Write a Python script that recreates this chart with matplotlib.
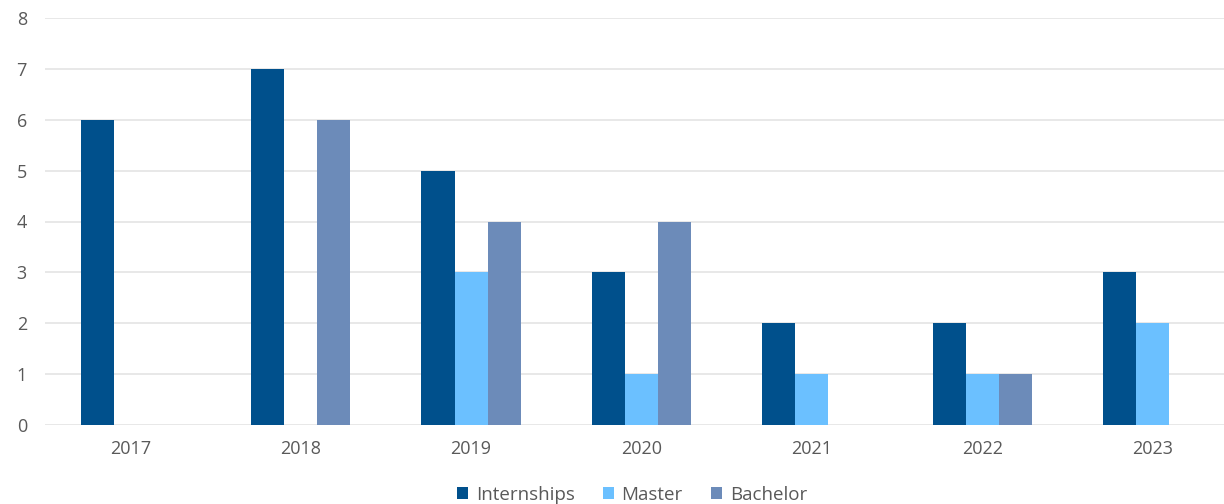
import numpy as np
import matplotlib.pyplot as plt

years = ["2017", "2018", "2019", "2020", "2021", "2022", "2023"]
internships = [6, 7, 5, 3, 2, 2, 3]
master = [0, 0, 3, 1, 1, 1, 2]
bachelor = [0, 6, 4, 4, 0, 1, 0]

series = [
    ("Internships", internships, "#00508C"),
    ("Master", master, "#6BC0FF"),
    ("Bachelor", bachelor, "#6C8BB9"),
]

plt.rcParams["font.family"] = ["Open Sans", "DejaVu Sans"]

fig = plt.figure(figsize=(12.24, 5.04), dpi=100)
ax = fig.add_axes([45 / 1224, 79 / 504, 1193 / 1224, 407 / 504])

x = np.arange(len(years))
w = 0.194
for i, (name, vals, color) in enumerate(series):
    ax.bar(x + (i - 1) * w, vals, width=w, color=color, label=name, zorder=3)

ax.set_xlim(-0.5, len(years) - 0.5)
ax.set_ylim(0, 8)
ax.set_yticks(range(0, 9))
ax.set_xticks(x)
ax.set_xticklabels(years)
ax.grid(axis="y", color="#E4E4E4", linewidth=1.2, zorder=0)
for s in ax.spines.values():
    s.set_visible(False)
ax.tick_params(length=0, labelsize=13, labelcolor="#595959")
ax.tick_params(axis="x", pad=11)
ax.tick_params(axis="y", pad=13)

fig.legend(loc="center", bbox_to_anchor=(632 / 1224, 9 / 504), ncol=3, frameon=False,
           fontsize=13.5, labelcolor="#595959", handlelength=0.6, handleheight=0.6,
           handletextpad=0.4, columnspacing=1.5)

fig.savefig("out.png", dpi=100)
